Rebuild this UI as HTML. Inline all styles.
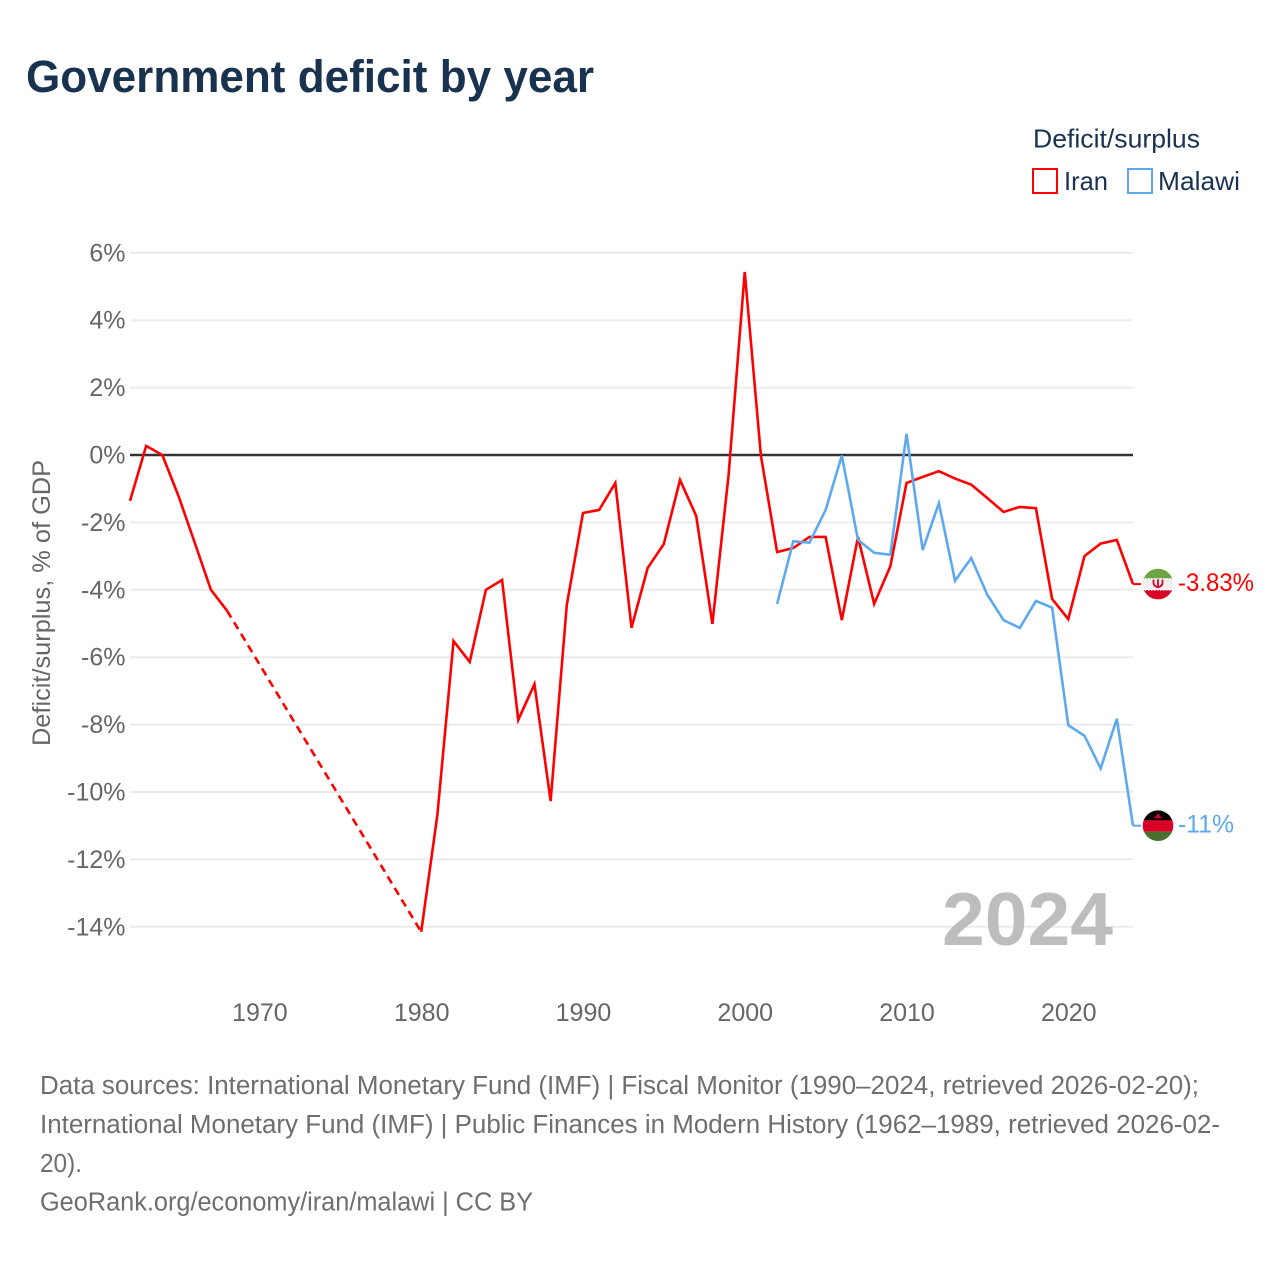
<!DOCTYPE html>
<html lang="en">
<head>
<meta charset="utf-8">
<title>Government deficit by year</title>
<style>
html,body{margin:0;padding:0;background:#fff;width:1280px;height:1280px;overflow:hidden}
svg{display:block;font-family:"Liberation Sans","DejaVu Sans",sans-serif}
</style>
</head>
<body>
<svg id="chart" xmlns="http://www.w3.org/2000/svg" width="1280" height="1280" viewBox="0 0 1280 1280">
  <rect width="1280" height="1280" fill="#fff"/>
  <text x="26" y="92" font-size="45" font-weight="700" fill="#18324f" textLength="568" lengthAdjust="spacingAndGlyphs">Government deficit by year</text>

  <text x="1033" y="147.5" font-size="26" fill="#18324f" textLength="167" lengthAdjust="spacingAndGlyphs">Deficit/surplus</text>
  <rect x="1033" y="169" width="24" height="24" fill="none" stroke="#ff0000" stroke-width="2"/>
  <text x="1064" y="190" font-size="26" fill="#18324f" textLength="44" lengthAdjust="spacingAndGlyphs">Iran</text>
  <rect x="1128" y="169" width="24" height="24" fill="none" stroke="#5da9ee" stroke-width="2"/>
  <text x="1158" y="190" font-size="26" fill="#18324f" textLength="82" lengthAdjust="spacingAndGlyphs">Malawi</text>

  <text transform="translate(50,603) rotate(-90)" text-anchor="middle" font-size="25" fill="#666" textLength="286" lengthAdjust="spacingAndGlyphs">Deficit/surplus, % of GDP</text>

  <g id="grid"></g>
  <g id="y-ticks"></g>
  <g id="x-ticks"></g>

  <text x="942" y="945" font-size="75" font-weight="700" fill="#bdbdbd" textLength="171" lengthAdjust="spacingAndGlyphs">2024</text>

  <g id="series"></g>
  <g id="ends"></g>

  <text x="40" y="1094" font-size="25.5" fill="#6e6e6e" textLength="1159" lengthAdjust="spacingAndGlyphs">Data sources: International Monetary Fund (IMF) | Fiscal Monitor (1990–2024, retrieved 2026-02-20);</text>
  <text x="40" y="1133" font-size="25.5" fill="#6e6e6e" textLength="1180" lengthAdjust="spacingAndGlyphs">International Monetary Fund (IMF) | Public Finances in Modern History (1962–1989, retrieved 2026-02-</text>
  <text x="40" y="1172" font-size="25.5" fill="#6e6e6e" textLength="42" lengthAdjust="spacingAndGlyphs">20).</text>
  <text x="40" y="1210.5" font-size="25.5" fill="#6e6e6e" textLength="493" lengthAdjust="spacingAndGlyphs">GeoRank.org/economy/iran/malawi | CC BY</text>
</svg>
<script>
const startYear = 1962;
const endYear = 2024;
const yTickValues = [6, 4, 2, 0, -2, -4, -6, -8, -10, -12, -14];
const yTickLabels = ["6%", "4%", "2%", "0%", "-2%", "-4%", "-6%", "-8%", "-10%", "-12%", "-14%"];
const xTickValues = [1970, 1980, 1990, 2000, 2010, 2020];
const xTickLabels = ["1970", "1980", "1990", "2000", "2010", "2020"];

// One value per year, 1962 to 2024; null means no data that year.
const iranValues = [
  -1.36, 0.27, 0, -1.22, -2.6, -4, -4.62,
  null, null, null, null, null, null, null, null, null, null, null,
  -14.15, -10.68, -5.52, -6.14, -4, -3.71, -7.86, -6.8, -10.27, -4.45,
  -1.72, -1.63, -0.83, -5.13, -3.35, -2.64, -0.74, -1.81, -5.01, -0.6,
  5.43, -0.02, -2.88, -2.76, -2.43, -2.43, -4.9, -2.43, -4.42, -3.3,
  -0.83, -0.65, -0.48, -0.7, -0.88, -1.28, -1.69, -1.54, -1.58, -4.27,
  -4.87, -3, -2.63, -2.52, -3.83
];
const malawiValues = [
  null, null, null, null, null, null, null, null,
  null, null, null, null, null, null, null, null, null, null,
  null, null, null, null, null, null, null, null, null, null,
  null, null, null, null, null, null, null, null, null, null,
  null, null,
  -4.42, -2.56, -2.6, -1.63, -0.02, -2.52, -2.9, -2.96,
  0.63, -2.82, -1.43, -3.73, -3.06, -4.15, -4.9, -5.13, -4.33, -4.53,
  -8.02, -8.33, -9.3, -7.83, -11
];
const iranEndLabel = "-3.83%";
const malawiEndLabel = "-11%";

const SVG_NS = "http://www.w3.org/2000/svg";
const plotLeft = 130, plotRight = 1133, zeroY = 455, pxPerPercent = 33.7;
const xScale = y => plotLeft + (y - startYear) * (plotRight - plotLeft) / (endYear - startYear);
const yScale = v => zeroY - v * pxPerPercent;

function make(tag, attrs, parent, text) {
  const el = document.createElementNS(SVG_NS, tag);
  for (const k in attrs) el.setAttribute(k, attrs[k]);
  if (text !== undefined) el.textContent = text;
  parent.appendChild(el);
  return el;
}

const gridG = document.getElementById("grid");
const yTicksG = document.getElementById("y-ticks");
const xTicksG = document.getElementById("x-ticks");
const seriesG = document.getElementById("series");
const endsG = document.getElementById("ends");

yTickValues.forEach((v, i) => {
  const line = make("line", {x1: plotLeft, x2: plotRight, y1: yScale(v), y2: yScale(v),
    stroke: v === 0 ? "#333333" : "#ececec", "stroke-width": v === 0 ? 2.6 : 2}, gridG);
  
  
  const lab = make("text", {x: 125.5, y: yScale(v) + 8.5, "text-anchor": "end", "font-size": 25, fill: "#666"}, yTicksG, yTickLabels[i]);
  
  
});

xTickValues.forEach((y, i) => {
  const lab = make("text", {x: xScale(y) + 0.5, y: 1021, "text-anchor": "middle", "font-size": 25, fill: "#666"}, xTicksG, xTickLabels[i]);
  
  
});

function drawSeries(values, color, key) {
  const g = make("g", {}, seriesG);
  
  
  let run = [], lastPoint = null, lastWasNull = false;
  const flush = () => {
    if (run.length > 1) {
      const p = make("polyline", {points: run.join(" "), fill: "none", stroke: color, "stroke-width": 2.6, "stroke-linejoin": "miter"}, g);
      
      
    }
    run = [];
  };
  values.forEach((v, i) => {
    if (v === null) { flush(); lastWasNull = true; return; }
    const pt = [xScale(startYear + i), yScale(v)];
    if (lastWasNull && lastPoint) {
      const d = make("line", {x1: lastPoint[0], y1: lastPoint[1], x2: pt[0], y2: pt[1], stroke: color, "stroke-width": 2.6, "stroke-dasharray": "8 5.5"}, g);
      
      
    }
    run.push(pt.join(","));
    lastPoint = pt;
    lastWasNull = false;
  });
  flush();
  return lastPoint;
}

function drawEnd(point, color, label, key, bands, emblem) {
  const [x, y] = point;
  const conn = make("line", {x1: x, x2: x + 8, y1: y, y2: y, stroke: color, "stroke-width": 2}, endsG);
  
  
  const cx = x + 25;
  const clip = make("clipPath", {id: "clip-" + key}, endsG);
  make("circle", {cx: cx, cy: y, r: 15.3}, clip);
  const flag = make("g", {"clip-path": "url(#clip-" + key + ")"}, endsG);
  
  
  make("rect", {x: cx - 16, y: y - 16, width: 32, height: 11, fill: bands[0]}, flag);
  make("rect", {x: cx - 16, y: y - 5.5, width: 32, height: 11.5, fill: bands[1]}, flag);
  make("rect", {x: cx - 16, y: y + 6, width: 32, height: 10, fill: bands[2]}, flag);
  emblem(flag, cx, y);
  const t = make("text", {x: x + 45, y: y + 7, "font-size": 25, fill: color}, endsG, label);
  
  
  t.setAttribute('textLength', label.length > 4 ? 76 : 56);
  t.setAttribute('lengthAdjust', 'spacingAndGlyphs');
}

const iranEnd = drawSeries(iranValues, "#ff0000", "iran");
const malawiEnd = drawSeries(malawiValues, "#5da9ee", "malawi");

drawEnd(iranEnd, "#ff0000", iranEndLabel, "iran", ["#6da544", "#f0f0f0", "#d80027"], (g, cx, y) => {
  make("path", {d: `M${cx-4.5} ${y-4.5}v3a4.5 4.5 0 0 0 9 0v-3M${cx} ${y-5}v9`, fill: "none", stroke: "#d80027", "stroke-width": 1.8}, g);
  make("line", {x1: cx - 16, x2: cx + 16, y1: y - 5.5, y2: y - 5.5, stroke: "#ffffff", "stroke-width": 1.2, "stroke-dasharray": "1.5 1.5"}, g);
  make("line", {x1: cx - 16, x2: cx + 16, y1: y + 6, y2: y + 6, stroke: "#ffffff", "stroke-width": 1.2, "stroke-dasharray": "1.5 1.5"}, g);
});
drawEnd(malawiEnd, "#5da9ee", malawiEndLabel, "malawi", ["#000000", "#d80027", "#496e2d"], (g, cx, y) => {
  make("path", {d: `M${cx-4} ${y-7.5}v-1.5h2v-1.5h1v-1.5h2v1.5h1v1.5h2v1.5z`, fill: "#d80027"}, g);
});
</script>
</body>
</html>
